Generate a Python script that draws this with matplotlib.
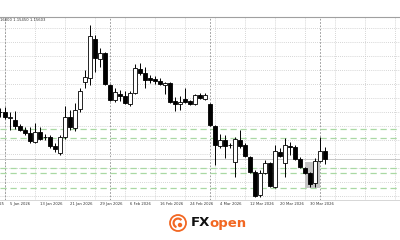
import matplotlib.pyplot as plt
from matplotlib.patches import Rectangle, Circle, Wedge

# EURUSD daily candles, 31 Dec 2025 .. 2 Apr 2026 (first one cut by the edge)
opens = [1.1712, 1.1713, 1.1694, 1.1687, 1.1668, 1.1656, 1.1645, 1.1616, 1.1648, 1.1632,
         1.1632, 1.1603, 1.1580, 1.1632, 1.1697, 1.1661, 1.1723, 1.1810, 1.1823, 1.1950,
         1.1885, 1.1904, 1.1801, 1.1752, 1.1772, 1.1765, 1.1739, 1.1775, 1.1853, 1.1840,
         1.1823, 1.1820, 1.1815, 1.1801, 1.1807, 1.1749, 1.1738, 1.1755, 1.1749, 1.1739,
         1.1768, 1.1755, 1.1739, 1.1668, 1.1603, 1.1622, 1.1606, 1.1551, 1.1622, 1.1606,
         1.1567, 1.1519, 1.1444, 1.1516, 1.1548, 1.1470, 1.1584, 1.1548, 1.1603, 1.1600,
         1.1561, 1.1532, 1.1516, 1.1483, 1.1554, 1.1587]
highs = [1.1726, 1.1729, 1.1713, 1.1716, 1.1674, 1.1663, 1.1665, 1.1678, 1.1665, 1.1642,
         1.1639, 1.1613, 1.1639, 1.1733, 1.1720, 1.1742, 1.1791, 1.1849, 1.1995, 1.1963,
         1.1921, 1.1908, 1.1804, 1.1791, 1.1785, 1.1781, 1.1781, 1.1869, 1.1872, 1.1859,
         1.1833, 1.1830, 1.1823, 1.1810, 1.1810, 1.1762, 1.1765, 1.1791, 1.1752, 1.1772,
         1.1775, 1.1775, 1.1742, 1.1671, 1.1642, 1.1639, 1.1613, 1.1632, 1.1655, 1.1613,
         1.1571, 1.1525, 1.1525, 1.1558, 1.1551, 1.1606, 1.1597, 1.1629, 1.1616, 1.1606,
         1.1567, 1.1535, 1.1519, 1.1564, 1.1632, 1.1600]
lows = [1.1697, 1.1691, 1.1655, 1.1658, 1.1652, 1.1640, 1.1613, 1.1613, 1.1622, 1.1622,
        1.1597, 1.1584, 1.1574, 1.1626, 1.1655, 1.1652, 1.1713, 1.1791, 1.1801, 1.1843,
        1.1859, 1.1801, 1.1749, 1.1746, 1.1749, 1.1739, 1.1733, 1.1772, 1.1833, 1.1791,
        1.1807, 1.1804, 1.1801, 1.1772, 1.1742, 1.1716, 1.1720, 1.1742, 1.1736, 1.1736,
        1.1755, 1.1752, 1.1668, 1.1541, 1.1597, 1.1564, 1.1597, 1.1503, 1.1597, 1.1567,
        1.1516, 1.1438, 1.1438, 1.1512, 1.1470, 1.1467, 1.1567, 1.1503, 1.1574, 1.1558,
        1.1532, 1.1512, 1.1470, 1.1470, 1.1551, 1.1545]
closes = [1.1713, 1.1697, 1.1697, 1.1668, 1.1656, 1.1645, 1.1619, 1.1648, 1.1626, 1.1631,
          1.1603, 1.1593, 1.1632, 1.1697, 1.1665, 1.1720, 1.1781, 1.1827, 1.1959, 1.1888,
          1.1904, 1.1804, 1.1752, 1.1778, 1.1765, 1.1742, 1.1775, 1.1856, 1.1840, 1.1817,
          1.1817, 1.1815, 1.1804, 1.1807, 1.1746, 1.1739, 1.1746, 1.1747, 1.1739, 1.1768,
          1.1759, 1.1768, 1.1671, 1.1606, 1.1622, 1.1603, 1.1605, 1.1626, 1.1603, 1.1571,
          1.1519, 1.1441, 1.1516, 1.1548, 1.1473, 1.1587, 1.1571, 1.1606, 1.1601, 1.1561,
          1.1535, 1.1516, 1.1480, 1.1554, 1.1587, 1.1560]

date_bars = [-5, 1, 7, 13, 19, 25, 31, 37, 43, 49, 55, 61]
date_labels = ["24 Dec 2025", "5 Jan 2026", "13 Jan 2026", "21 Jan 2026", "29 Jan 2026",
               "6 Feb 2026", "16 Feb 2026", "24 Feb 2026", "4 Mar 2026", "12 Mar 2026",
               "20 Mar 2026", "30 Mar 2026"]
month_start_bars = [0, 21, 41, 63]
grid_prices = [1.1985, 1.1940, 1.1894, 1.1849, 1.1804, 1.1759, 1.1713, 1.1668,
               1.1622, 1.1577, 1.1532, 1.1487, 1.1441]
levels = [1.1658, 1.1629, 1.1532, 1.1516, 1.1467]
zone_bars = [59.9, 63.0]
zone_prices = [1.1467, 1.1551]
header = "16000 1.15450 1.15603"

fig = plt.figure(figsize=(4, 2.4), dpi=100)
ax = fig.add_axes([0, 40 / 240, 1, 183 / 240])

xs = list(range(-1, len(opens) - 1))

# grid
for g in grid_prices:
    ax.axhline(g, color='#c8c8c8', lw=0.6, ls=(0, (1, 1.5)), zorder=0)
for b in range(0, 80, 6):
    ax.axvline(b, color='#c8c8c8', lw=0.6, ls=(0, (1, 1.5)), zorder=0)
for b in month_start_bars:
    ax.axvline(b, color='#8a8a8a', lw=0.6, ls=(0, (2, 2)), zorder=0.5)

# support / resistance levels
for lv in levels:
    ax.axhline(lv, color='#a9d9a3', lw=0.9, ls=(0, (5, 3)), zorder=1)

# highlighted zone
ax.add_patch(Rectangle((zone_bars[0], zone_prices[0]), zone_bars[1] - zone_bars[0],
                       zone_prices[1] - zone_prices[0], facecolor='#c4c4c4',
                       edgecolor='none', zorder=1.5))

# bid line
ax.axhline(closes[-1], color='#c8c8c8', lw=0.7, zorder=1)

# candles
w = 0.66
for x, o, h, l, c in zip(xs, opens, highs, lows, closes):
    ax.vlines(x, l, h, color='black', lw=0.7, zorder=2)
    body = max(abs(c - o), 0.00006)
    ax.add_patch(Rectangle((x - w / 2, min(o, c)), w, body,
                           facecolor='white' if c >= o else 'black',
                           edgecolor='black', lw=0.6, zorder=3))

ax.set_xticks([])
ax.set_yticks([])
ax.set_xlim(-1, 79)
ax.set_ylim(1.1428, 1.2021)

# date labels start at their bar, like the terminal does
for b, lab in zip(date_bars, date_labels):
    ax.text(b, -0.012, lab, transform=ax.get_xaxis_transform(), fontsize=2.7,
            color='#333333', ha='left', va='top', clip_on=False)

for s in ['left', 'right']:
    ax.spines[s].set_visible(False)
ax.spines['top'].set_color('#a0a0a0')
ax.spines['top'].set_linewidth(0.8)
ax.spines['bottom'].set_color('#d0d0d0')
ax.spines['bottom'].set_linewidth(0.6)

ax.text(0.0, 0.995, header, transform=ax.transAxes, fontsize=2.7,
        color='#333333', va='top', ha='left')

# logo
logo_ax = fig.add_axes([160 / 400, 0, 100 / 400, 36 / 240])
logo_ax.set_xlim(0, 100)
logo_ax.set_ylim(0, 36)
logo_ax.set_aspect('equal')
logo_ax.axis('off')
orange = '#f26722'
logo_ax.add_patch(Circle((18, 17), 8, facecolor='white', edgecolor=orange, lw=1.3))
logo_ax.add_patch(Wedge((18, 17), 5.5, 40, 250, width=2.2, facecolor=orange,
                        edgecolor='none'))
logo_ax.add_patch(Circle((20, 15), 2.2, facecolor=orange, edgecolor='none'))
logo_ax.text(31, 17, "FX", fontsize=9.5, fontweight='bold', color='#111111',
             va='center', ha='left')
logo_ax.text(49.5, 17, "open", fontsize=9.5, fontweight='bold', color=orange,
             va='center', ha='left')

fig.savefig('out.png', dpi=100)
